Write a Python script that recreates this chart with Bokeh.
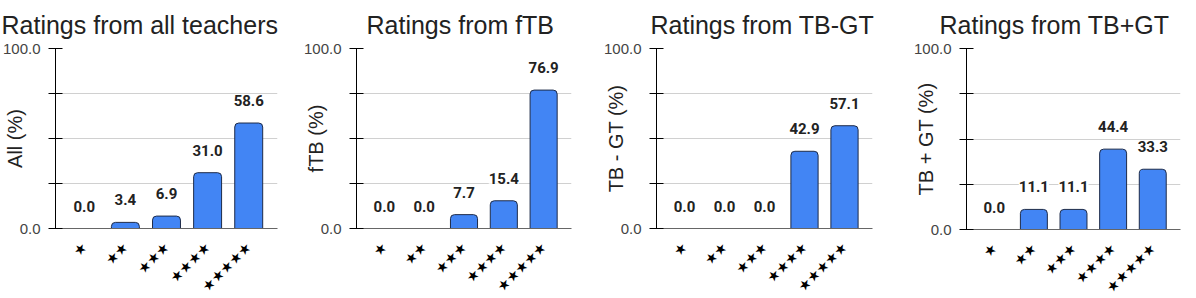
import math
from bokeh.plotting import figure
from bokeh.models import ColumnDataSource, FactorRange, Range1d, FixedTicker, LabelSet, Title
from bokeh.core.properties import value
from bokeh.layouts import row
from bokeh.embed import file_html
from bokeh.resources import INLINE

# ---- data ----
categories = ["★", "★★", "★★★", "★★★★", "★★★★★"]
titles = ["Ratings from all teachers", "Ratings from fTB", "Ratings from TB-GT", "Ratings from TB+GT"]
ylabels = ["All (%)", "fTB (%)", "TB - GT (%)", "TB + GT (%)"]
all_teachers = [0.0, 3.4, 6.9, 31.0, 58.6]
ftb = [0.0, 0.0, 7.7, 15.4, 76.9]
tb_minus_gt = [0.0, 0.0, 0.0, 42.9, 57.1]
tb_plus_gt = [0.0, 11.1, 11.1, 44.4, 33.3]
y_ticks = [0, 25, 50, 75, 100]
y_tick_labels = ["0.0", "", "", "", "100.0"]

series = [all_teachers, ftb, tb_minus_gt, tb_plus_gt]

# layout per panel
geom = [
    dict(fw=222, fh=180, left=54, right=12, top=46, bottom=50, toff=-54),
    dict(fw=215, fh=180, left=67, right=18, top=46, bottom=50, toff=10),
    dict(fw=216, fh=180, left=67, right=14, top=46, bottom=50, toff=-6),
    dict(fw=214, fh=181, left=80, right=1, top=48, bottom=47, toff=-27),
]

FONT = "Liberation Sans"


def make_panel(title, ylabel, vals, g):
    src = ColumnDataSource(dict(cat=categories, val=vals, label=[f"{v:.1f}" for v in vals]))
    p = figure(
        x_range=FactorRange(factors=categories, range_padding=0.2, range_padding_units="absolute"),
        y_range=Range1d(0, 100),
        frame_width=g["fw"], frame_height=g["fh"],
        min_border_left=g["left"], min_border_right=g["right"],
        min_border_top=g["top"], min_border_bottom=g["bottom"],
        output_backend="svg", toolbar_location=None,
    )
    p.add_layout(Title(text=title, align="left", vertical_align="top", offset=g["toff"],
                       text_font=FONT, text_font_size="25px", text_font_style="normal",
                       text_color="#222222", standoff=16), "above")
    p.vbar(x="cat", top="val", width=0.68, source=src, fill_color="#4285F4",
           line_color="#1e2b48", line_width=1, border_radius=(4, 4, 0, 0))
    labels = LabelSet(x="cat", y="val", text="label", source=src, y_offset=17,
                      text_align="center", text_baseline="alphabetic",
                      text_font=value("Roboto"), text_font_style="bold", text_font_size="15px",
                      text_color="#222222", background_fill_color="white")
    p.add_layout(labels)

    p.outline_line_color = None
    p.xgrid.grid_line_color = None
    p.ygrid.grid_line_color = "#d0d0d0"
    p.ygrid.ticker = FixedTicker(ticks=y_ticks)

    xa = p.xaxis[0]
    xa.axis_line_color = "#666666"
    xa.major_tick_line_color = None
    xa.minor_tick_line_color = None
    xa.major_label_orientation = math.pi / 4
    xa.major_label_text_font = "DejaVu Sans"
    xa.major_label_text_font_size = "14px"
    xa.major_label_text_color = "black"
    xa.major_label_standoff = 10

    ya = p.yaxis[0]
    ya.ticker = FixedTicker(ticks=y_ticks)
    ya.major_label_overrides = dict(zip(y_ticks, y_tick_labels))
    ya.axis_line_color = "black"
    ya.major_tick_line_color = "black"
    ya.major_tick_in = 7
    ya.major_tick_out = 7
    ya.minor_tick_line_color = None
    ya.major_label_text_font = FONT
    ya.major_label_text_font_size = "15px"
    ya.major_label_text_color = "#444444"
    ya.major_label_standoff = 8
    ya.axis_label = ylabel
    ya.axis_label_text_font = FONT
    ya.axis_label_text_font_size = "20px"
    ya.axis_label_text_font_style = "normal"
    ya.axis_label_text_color = "#222222"
    ya.axis_label_text_baseline = "middle"
    ya.axis_label_standoff = -26
    return p


figs = [make_panel(t, yl, v, g) for t, yl, v, g in zip(titles, ylabels, series, geom)]
layout = row(*figs)

open("out.html", "w").write(file_html(layout, INLINE))
